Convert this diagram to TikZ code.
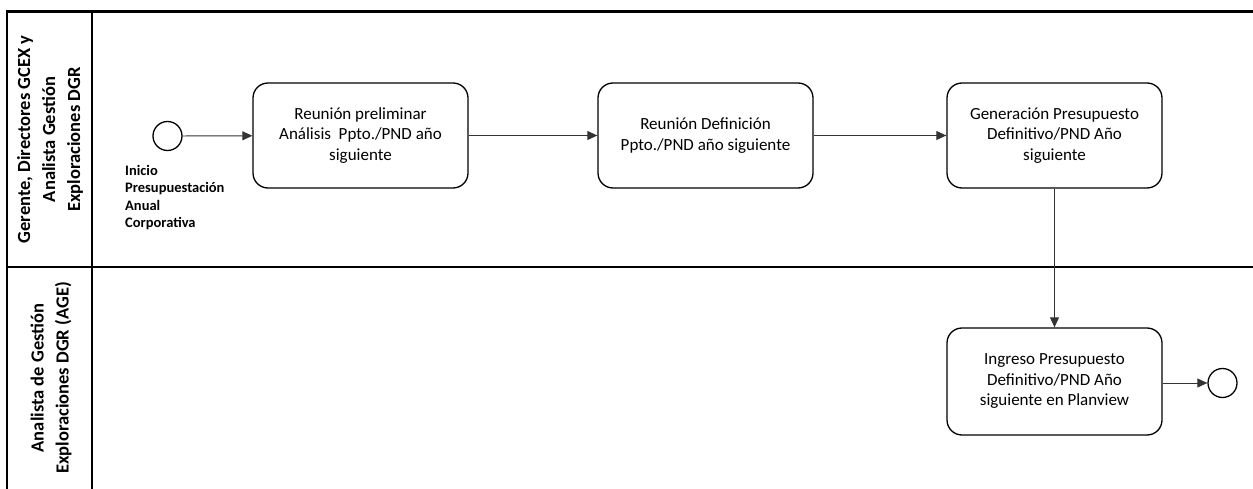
\documentclass[tikz,border=0pt]{standalone}
\usepackage{fontspec}
\setmainfont{Carlito}
\usetikzlibrary{arrows.meta}
\begin{document}
\begin{tikzpicture}[x=1pt,y=-1pt,
  lane/.style={line width=2.2pt, black},
  task/.style={draw, line width=1.3pt, rounded corners=15pt, minimum width=215pt, minimum height=105pt,
    align=center, font=\fontsize{17}{20.5}\selectfont, inner sep=0pt},
  event/.style={draw, circle, line width=1.3pt, minimum size=29pt, inner sep=0pt},
  flow/.style={draw=black!80, line width=0.9pt, -{Triangle[length=10pt,width=9pt]}},
  lanelabel/.style={rotate=90, align=center, font=\fontsize{18.5}{25}\selectfont\bfseries}]
\useasboundingbox (0,0) rectangle (1253,489);
% pool frame and lanes
\draw[lane] (7,489) -- (7,11.5) -- (1253,11.5);
\draw[lane] (92,11.5) -- (92,489);
\draw[lane] (7,267) -- (1253,267);
\node[lanelabel] (l1) at (50,139.5) {Gerente, Directores GCEX y\\Analista Gestión\\Exploraciones DGR};
\node[lanelabel] (l2) at (51,378) {Analista de Gestión\\Exploraciones DGR (AGE)};
% events and tasks
\node[event] (start) at (167.5,136) {};
\node[anchor=north west, align=left, inner sep=0pt, font=\fontsize{14.5}{17.5}\selectfont\bfseries] (startlbl) at (125,165)
  {Inicio\\Presupuestación\\Anual\\Corporativa};
\node[task] (t1) at (360.5,135.5) {Reunión preliminar\\Análisis\ \ Ppto./PND año\\siguiente};
\node[task] (t2) at (705.5,135.5) {Reunión Definición\\Ppto./PND año siguiente};
\node[task] (t3) at (1054.5,135.5) {Generación Presupuesto\\Definitivo/PND Año\\siguiente};
\node[task, minimum height=107pt] (t4) at (1054.5,381.5) {Ingreso Presupuesto\\Definitivo/PND Año\\siguiente en Planview};
\node[event] (end) at (1222.5,383) {};
% sequence flows
\draw[flow] (start) -- (t1);
\draw[flow] (t1) -- (t2);
\draw[flow] (t2) -- (t3);
\draw[flow] (t3) -- (t4);
\draw[flow] (t4.east |- end) -- (end);
\end{tikzpicture}
\end{document}
